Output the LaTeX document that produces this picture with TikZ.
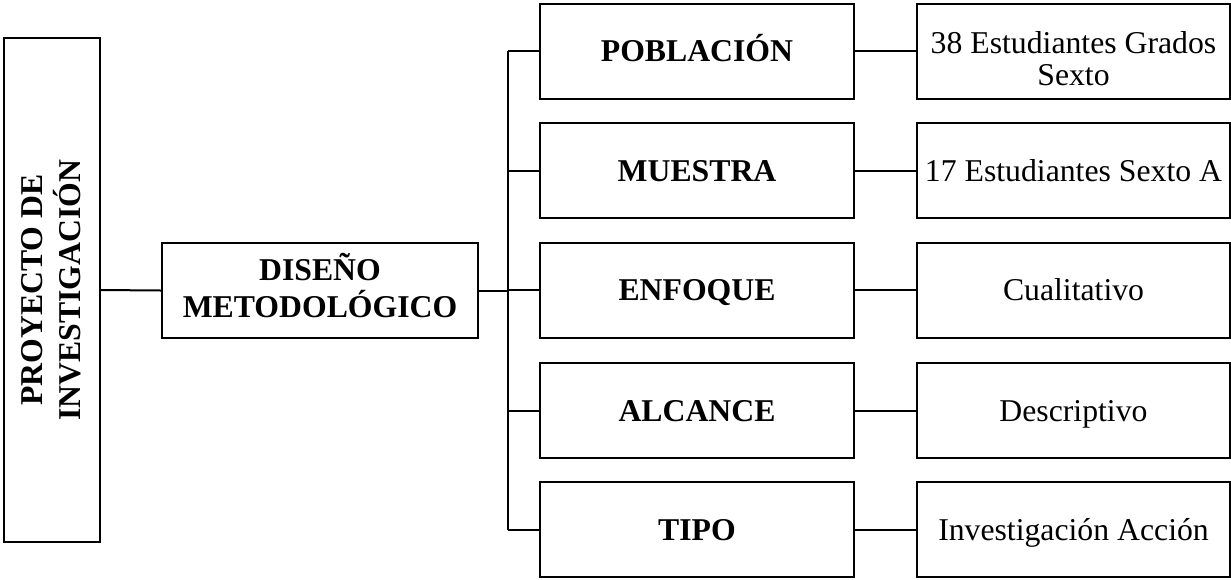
\documentclass[tikz,border=0pt]{standalone}
\usepackage{fontspec}
\setmainfont{Liberation Serif}
\setlength{\tabcolsep}{0pt}
\begin{document}
\begin{tikzpicture}[x=0.75pt,y=-0.75pt,
  txt/.style={font=\fontsize{23.8}{24}\selectfont, align=center, inner sep=0pt, text height=15.75pt, text depth=0pt},
  box/.style={draw, line width=1.5pt, txt},
  midbox/.style={box, font=\fontsize{23.8}{24}\selectfont\bfseries, minimum width=314*0.75pt, minimum height=95*0.75pt},
  rbox/.style={box, minimum width=313*0.75pt, minimum height=95*0.75pt},
  conn/.style={line width=1.5pt}]
\useasboundingbox (0,0) rectangle (1231,579);
% left box
\node[draw, line width=1.5pt, minimum width=96*0.75pt, minimum height=504*0.75pt] (proj) at (52,290) {};
\node[txt, font=\fontsize{23.8}{26.25}\selectfont\bfseries, rotate=90, text height=42pt] (projt) at (52,290)
  {\begin{tabular}[b]{c}PROYECTO DE\\INVESTIGACIÓN\end{tabular}};
% diseño
\node[box, font=\fontsize{23.8}{24}\selectfont\bfseries, minimum width=316*0.75pt, minimum height=95*0.75pt, text height=39.75pt] (dis) at (320,290.5)
  {\begin{tabular}[b]{c}DISEÑO\\METODOLÓGICO\end{tabular}};
% middle boxes
\node[midbox] (m1) at (697,51) {POBLACIÓN};
\node[midbox] (m2) at (697,170.5) {MUESTRA};
\node[midbox] (m3) at (697,290) {ENFOQUE};
\node[midbox] (m4) at (697,410.5) {ALCANCE};
\node[midbox] (m5) at (697,529.5) {TIPO};
% right boxes
\node[rbox, text height=51pt] (r1) at (1073.5,51) {\begin{tabular}[b]{c}38 Estudiantes Grados\\Sexto\end{tabular}};
\node[rbox] (r2) at (1073.5,170.5) {17 Estudiantes Sexto A};
\node[rbox] (r3) at (1073.5,290) {Cualitativo};
\node[rbox] (r4) at (1073.5,410.5) {Descriptivo};
\node[rbox] (r5) at (1073.5,529.5) {Investigación Acción};
% bus
\coordinate (bx) at (508,290);
\draw[conn] (proj.east) -- (dis.west);
\draw[conn] (dis.east) -- (dis.east -| bx);
\draw[conn] (bx |- m1.west) -- (bx |- m5.west);
\foreach \i in {1,...,5}{
  \draw[conn] (bx |- m\i.west) -- (m\i.west);
  \draw[conn] (m\i.east) -- (r\i.west);
}
\end{tikzpicture}
\end{document}
